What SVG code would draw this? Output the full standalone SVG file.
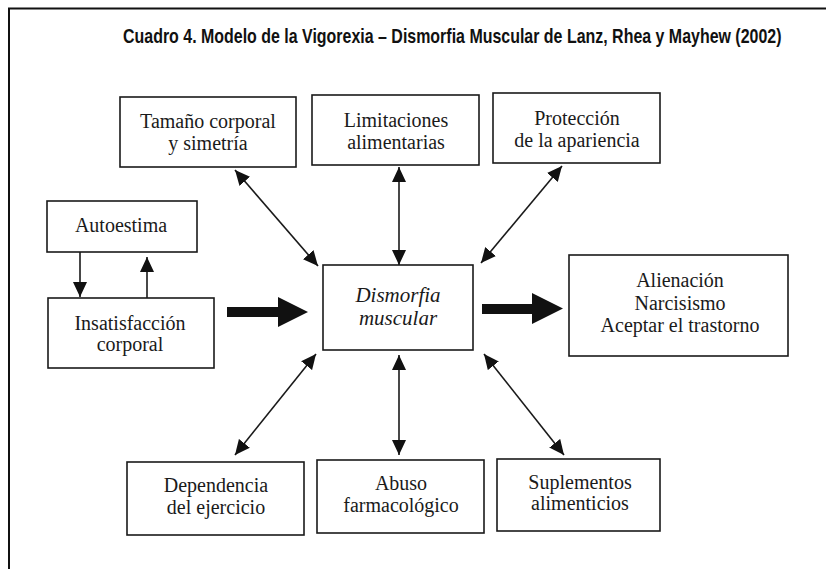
<svg xmlns="http://www.w3.org/2000/svg" width="826" height="569" viewBox="0 0 826 569">
<style>
.box{fill:#fff;stroke:#1a1a1a;stroke-width:1.6}
.t{font-family:"Liberation Serif","Times New Roman",serif;font-size:20px;fill:#1a1a1a;text-anchor:middle}
.it{font-style:italic;font-size:21px}
.ln{stroke:#1a1a1a;stroke-width:1.6;fill:none}
.title{font-family:"Liberation Sans",Arial,sans-serif;font-weight:bold;font-size:20px;fill:#111}
</style>
<defs>
<marker id="ah" markerUnits="userSpaceOnUse" markerWidth="16" markerHeight="16" viewBox="0 0 16 16" refX="15" refY="8" orient="auto-start-reverse">
<path d="M0,1 L15,8 L0,15 Z" fill="#111"/>
</marker>
</defs>
<rect width="826" height="569" fill="#fff"/>
<g id="frame">
<path d="M9,569 L9,8.5 L826,8.5" fill="none" stroke="#111" stroke-width="2"/>
</g>
<g id="title">
<text class="title" transform="scale(0.75,1)" x="164" y="43" textLength="878" lengthAdjust="spacingAndGlyphs">Cuadro 4. Modelo de la Vigorexia – Dismorfia Muscular de Lanz, Rhea y Mayhew (2002)</text>
</g>
<g id="n-tamano">
<rect class="box" x="120" y="97" width="176" height="70"/>
<text class="t" x="208" y="128">Tamaño corporal</text>
<text class="t" x="208" y="150">y simetría</text>
</g>
<g id="n-limitaciones">
<rect class="box" x="312" y="95" width="167" height="70"/>
<text class="t" x="396" y="127">Limitaciones</text>
<text class="t" x="396" y="149">alimentarias</text>
</g>
<g id="n-proteccion">
<rect class="box" x="493" y="93" width="167" height="70"/>
<text class="t" x="577" y="125">Protección</text>
<text class="t" x="577" y="147">de la apariencia</text>
</g>
<g id="n-autoestima">
<rect class="box" x="47" y="201" width="150" height="51"/>
<text class="t" x="121" y="232">Autoestima</text>
</g>
<g id="n-insatisfaccion">
<rect class="box" x="48" y="298" width="166" height="70"/>
<text class="t" x="130" y="330">Insatisfacción</text>
<text class="t" x="130" y="351">corporal</text>
</g>
<g id="n-dismorfia">
<rect class="box" x="323" y="265" width="150" height="85"/>
<text class="t it" x="398" y="302">Dismorfia</text>
<text class="t it" x="398" y="325">muscular</text>
</g>
<g id="n-alienacion">
<rect class="box" x="569" y="255" width="219" height="101"/>
<text class="t" x="680" y="287">Alienación</text>
<text class="t" x="680" y="310">Narcisismo</text>
<text class="t" x="680" y="332">Aceptar el trastorno</text>
</g>
<g id="n-dependencia">
<rect class="box" x="127" y="462" width="177" height="73"/>
<text class="t" x="216" y="492">Dependencia</text>
<text class="t" x="216" y="514">del ejercicio</text>
</g>
<g id="n-abuso">
<rect class="box" x="317" y="460" width="167" height="73"/>
<text class="t" x="401" y="490">Abuso</text>
<text class="t" x="401" y="512">farmacológico</text>
</g>
<g id="n-suplementos">
<rect class="box" x="497" y="459" width="163" height="72"/>
<text class="t" x="580" y="489">Suplementos</text>
<text class="t" x="580" y="510">alimenticios</text>
</g>
<g id="connectors">
<line class="ln" x1="235" y1="170" x2="318" y2="266" marker-start="url(#ah)" marker-end="url(#ah)"/>
<line class="ln" x1="399" y1="167" x2="399" y2="265" marker-start="url(#ah)" marker-end="url(#ah)"/>
<line class="ln" x1="562" y1="166" x2="481" y2="263" marker-start="url(#ah)" marker-end="url(#ah)"/>
<line class="ln" x1="316" y1="354" x2="235" y2="455" marker-start="url(#ah)" marker-end="url(#ah)"/>
<line class="ln" x1="399" y1="355" x2="399" y2="455" marker-start="url(#ah)" marker-end="url(#ah)"/>
<line class="ln" x1="484" y1="354" x2="564" y2="455" marker-start="url(#ah)" marker-end="url(#ah)"/>
<line class="ln" x1="80" y1="252" x2="80" y2="297" marker-end="url(#ah)"/>
<line class="ln" x1="147" y1="298" x2="147" y2="257" marker-end="url(#ah)"/>
<path d="M227,307 L278,307 L278,297 L308,312 L278,327 L278,317 L227,317 Z" fill="#111"/>
<path d="M482,304 L532,304 L532,293 L563,308.5 L532,324 L532,314 L482,314 Z" fill="#111"/>
</g>
</svg>
